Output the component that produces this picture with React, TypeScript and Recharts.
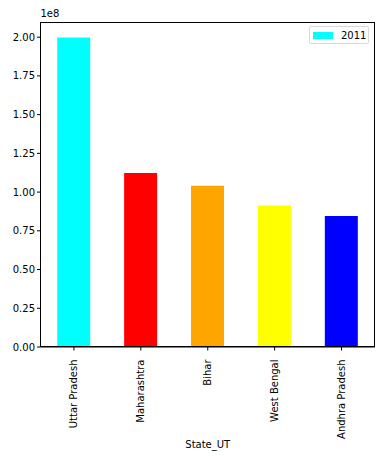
import React from "react";
import { Bar, BarChart, Cell, XAxis, YAxis } from "recharts";

const states = ["Uttar Pradesh", "Maharashtra", "Bihar", "West Bengal", "Andhra Pradesh"];
const population2011 = [199812341, 112374333, 104099452, 91276115, 84580777];
const barColors = ["#00ffff", "#ff0000", "#ffa500", "#ffff00", "#0000ff"];
const yTicks = [0, 0.25e8, 0.5e8, 0.75e8, 1e8, 1.25e8, 1.5e8, 1.75e8, 2e8];

const data = states.map((s, i) => ({ state: s, value: population2011[i] }));
const font = "DejaVu Sans, sans-serif";

const RotatedTick = (props: any) => {
  const { x, y, payload } = props;
  return (
    <g transform={`translate(${x},${y + 7})`}>
      <text transform="rotate(-90)" textAnchor="end" dominantBaseline="central" fontSize={10} fill="#000" fontFamily={font}>
        {payload.value}
      </text>
    </g>
  );
};

export default function App() {
  return (
    <div style={{ position: "absolute", left: 0, top: 0, width: 389, height: 456, background: "#fff" }}>
      <BarChart width={389} height={456} data={data} margin={{ top: 22, right: 14, left: 0, bottom: 0 }} barCategoryGap="25%">
        <XAxis
          dataKey="state"
          height={109}
          tick={<RotatedTick />}
          tickLine={{ stroke: "#000" }}
          tickSize={3.5}
          axisLine={{ stroke: "#000" }}
          interval={0}
          label={{ value: "State_UT", position: "insideBottom", offset: 8, fontSize: 10, fill: "#000", fontFamily: font }}
        />
        <YAxis
          width={40.5}
          domain={[0, 2.098e8]}
          ticks={yTicks}
          tickFormatter={(v: number) => (v / 1e8).toFixed(2)}
          tick={{ fontSize: 10, fill: "#000", fontFamily: font }}
          tickLine={{ stroke: "#000" }}
          tickSize={3.5}
          axisLine={{ stroke: "#000" }}
          label={(p: any) => (
            <text x={p.viewBox.x + p.viewBox.width} y={p.viewBox.y - 5} fontSize={10} fill="#000" fontFamily={font}>
              1e8
            </text>
          )}
        />
        <Bar dataKey="value" isAnimationActive={false}>
          {data.map((d, i) => (
            <Cell key={d.state} fill={barColors[i]} />
          ))}
        </Bar>
      </BarChart>
      {/* plot frame */}
      <div
        style={{
          position: "absolute",
          left: 40,
          top: 22,
          width: 335,
          height: 325,
          border: "1px solid #000",
          boxSizing: "border-box",
          pointerEvents: "none",
        }}
      />
      {/* legend */}
      <div
        style={{
          position: "absolute",
          left: 309,
          top: 26,
          border: "1px solid #d9d9d9",
          borderRadius: 2,
          background: "#fff",
          width: 60,
          height: 18,
          display: "flex",
          alignItems: "center",
          fontFamily: font,
          fontSize: 10,
          boxSizing: "border-box",
        }}
      >
        <span style={{ display: "inline-block", width: 20, height: 7, background: barColors[0], marginLeft: 3, marginRight: 8 }} />
        <span>2011</span>
      </div>
    </div>
  );
}
